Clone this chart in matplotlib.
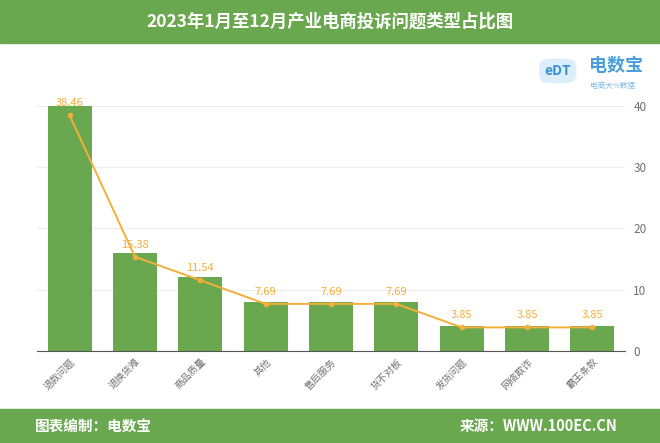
import matplotlib
matplotlib.use('Agg')
import matplotlib.pyplot as plt
from matplotlib.patches import Rectangle

plt.rcParams['font.family'] = ['Noto Sans CJK SC', 'DejaVu Sans']

categories = ['退款问题', '退换货难', '商品质量', '其他', '售后服务', '货不对板', '发货问题', '网络欺诈', '霸王条款']
counts = [10, 4, 3, 2, 2, 2, 1, 1, 1]
percents = [38.46, 15.38, 11.54, 7.69, 7.69, 7.69, 3.85, 3.85, 3.85]
pct_ticks = [0, 10, 20, 30, 40]

green = '#6aa84f'
orange = '#f5ae3a'
grey = '#707070'

fig = plt.figure(figsize=(6.6, 4.43), dpi=100)

# header and footer bars
fig.patches.append(Rectangle((0, 0.903), 1, 0.097, transform=fig.transFigure, color=green, zorder=0))
fig.patches.append(Rectangle((0, 0), 1, 0.077, transform=fig.transFigure, color=green, zorder=0))
fig.text(0.5, 0.951, '2023年1月至12月产业电商投诉问题类型占比图', color='white',
         fontsize=12.5, fontweight='bold', ha='center', va='center')
fig.text(0.053, 0.038, '图表编制：电数宝', color='white', fontsize=10.5, fontweight='bold', va='center')
fig.text(0.935, 0.038, '来源：WWW.100EC.CN', color='white', fontsize=10.5, fontweight='bold',
         va='center', ha='right')

# logo (text only)
fig.text(0.845, 0.84, 'eDT', color='#3a8fd0', fontsize=10, fontweight='bold', va='center', ha='center',
         bbox=dict(boxstyle='round4,pad=0.45', fc='#dcEEfb', ec='none'))
fig.text(0.892, 0.852, '电数宝', color='#4a9fd8', fontsize=13, fontweight='bold', va='center')
fig.text(0.894, 0.805, '电商大%数据', color='#7fb6e0', fontsize=5.5, va='center')

ax = fig.add_axes([0.056, 0.2077, 0.891, 0.553])
x = range(len(categories))
ax.bar(x, counts, width=0.67, color=green, zorder=2)
ax.set_ylim(0, 10)
ax.set_xlim(-0.5, len(categories) - 0.5)
ax.set_yticks([])
ax.set_xticks(list(x))
ax.set_xticklabels(categories, rotation=45, ha='right', rotation_mode='anchor', fontsize=7, color=grey)
ax.tick_params(axis='x', length=0, pad=4)
for s in ['top', 'left', 'right']:
    ax.spines[s].set_visible(False)
ax.spines['bottom'].set_color('#555555')
ax.spines['bottom'].set_linewidth(0.8)

ax2 = ax.twinx()
ax2.set_ylim(0, 40)
ax2.set_yticks(pct_ticks)
ax2.tick_params(axis='y', length=0, labelsize=8.5, labelcolor=grey, pad=6)
for s in ['top', 'left', 'right', 'bottom']:
    ax2.spines[s].set_visible(False)
for t in pct_ticks[1:]:
    ax.axhline(t / 4, color='#eeeeee', lw=0.8, zorder=1)
ax2.plot(list(x), percents, color=orange, lw=1.4, marker='o', markersize=3, zorder=3)
for i, p in enumerate(percents):
    ax2.annotate(f'{p:.2f}', (i, p), xytext=(0, 5), textcoords='offset points',
                 ha='center', va='bottom', fontsize=8, color=orange)

fig.savefig('out.png', dpi=100)
